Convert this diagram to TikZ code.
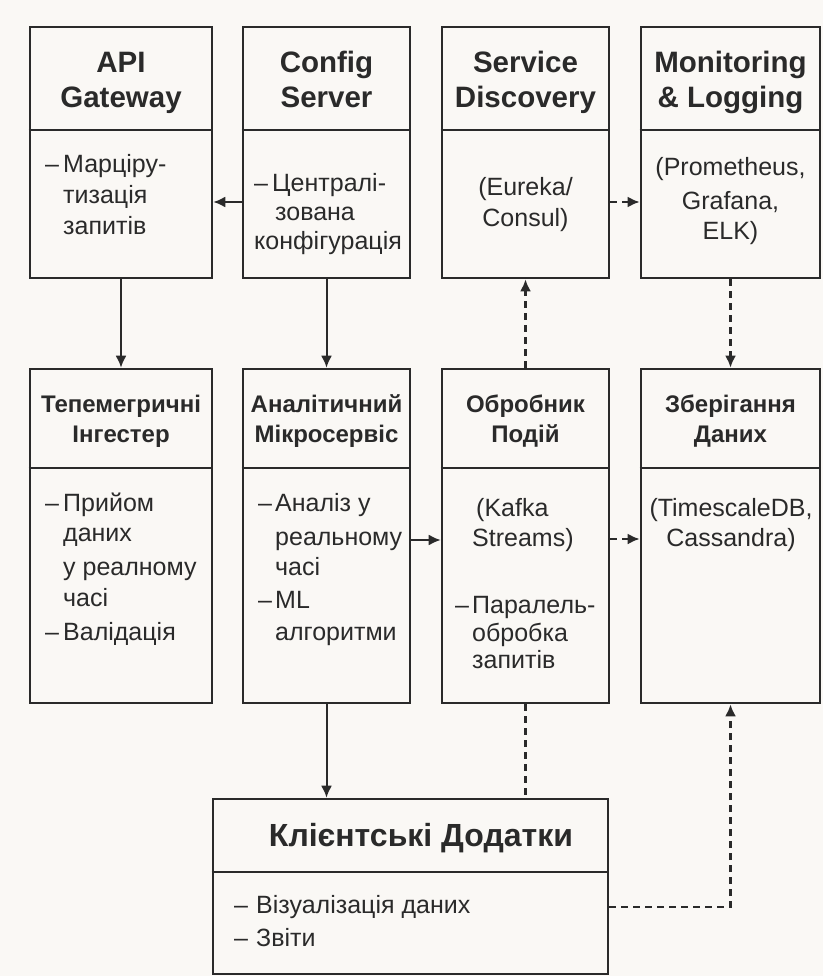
\documentclass[tikz,border=0pt]{standalone}
\usepackage{fontspec}
\setmainfont{Liberation Sans}
\usetikzlibrary{arrows.meta}
\definecolor{bg}{HTML}{FAF8F5}
\definecolor{ink}{HTML}{2A2A2A}
\begin{document}
\begin{tikzpicture}[x=1pt,y=-1pt,
  box/.style={draw=ink, line width=2.6pt, fill=bg, inner sep=0pt},
  divider/.style={draw=ink, line width=2.4pt},
  ttl/.style={font=\bfseries\fontsize{29.5}{35}\selectfont, text=ink, anchor=base, inner sep=0pt},
  ttlsm/.style={font=\bfseries\fontsize{24}{30}\selectfont, text=ink, anchor=base, inner sep=0pt},
  ttlbig/.style={font=\bfseries\fontsize{32}{36}\selectfont, text=ink, anchor=base, inner sep=0pt},
  txt/.style={font=\fontsize{25}{30}\selectfont, text=ink, anchor=base west, inner sep=0pt},
  txtc/.style={font=\fontsize{25}{30}\selectfont, text=ink, anchor=base, inner sep=0pt},
  arr/.style={draw=ink, line width=2pt, -{Latex[length=12pt,width=11pt]}},
  darr/.style={draw=ink, line width=2.4pt, dash pattern=on 7pt off 5pt, -{Latex[length=12pt,width=11pt]}},
  dline/.style={draw=ink, line width=2.4pt, dash pattern=on 7pt off 5pt}]
\fill[bg] (0,0) rectangle (823,976);
\useasboundingbox (0,0) rectangle (823,976);

% ---- boxes ----
\node[box, minimum width=182pt, minimum height=251pt] (api) at (121,152.5) {};
\node[box, minimum width=167pt, minimum height=251pt] (cfg) at (326.5,152.5) {};
\node[box, minimum width=167pt, minimum height=251pt] (sd)  at (525.5,152.5) {};
\node[box, minimum width=179pt, minimum height=251pt] (mon) at (730.5,152.5) {};
\node[box, minimum width=182pt, minimum height=334pt] (tel) at (121,536) {};
\node[box, minimum width=167pt, minimum height=334pt] (ana) at (326.5,536) {};
\node[box, minimum width=167pt, minimum height=334pt] (evt) at (525.5,536) {};
\node[box, minimum width=179pt, minimum height=334pt] (sto) at (730.5,536) {};
\node[box, minimum width=395pt, minimum height=175pt] (cli) at (410.5,886.5) {};

% ---- dividers ----
\foreach \b in {api,cfg,sd,mon}{
  \draw[divider] (\b.west |- 0,130) -- (\b.east |- 0,130);}
\foreach \b in {tel,ana,evt,sto}{
  \draw[divider] (\b.west |- 0,468) -- (\b.east |- 0,468);}
\draw[divider] (cli.west |- 0,872) -- (cli.east |- 0,872);

% ---- titles ----
\node[ttl] (tapi1) at (121,73) {API};
\node[ttl] (tapi2) at (121,108) {Gateway};
\node[ttl] (tcfg1) at (326.5,73) {Config};
\node[ttl] (tcfg2) at (326.5,108) {Server};
\node[ttl] (tsd1)  at (525.5,73) {Service};
\node[ttl] (tsd2)  at (525.5,108) {Discovery};
\node[ttl] (tmon1) at (730.5,73) {Monitoring};
\node[ttl] (tmon2) at (730.5,108) {\& Logging};
\node[ttlsm] (ttel1) at (121,412) {Тепемегричні};
\node[ttlsm] (ttel2) at (121,442) {Інгестер};
\node[ttlsm] (tana1) at (326.5,412) {Аналітичний};
\node[ttlsm] (tana2) at (326.5,442) {Мікросервіс};
\node[ttlsm] (tevt1) at (525.5,412) {Обробник};
\node[ttlsm] (tevt2) at (525.5,442) {Подій};
\node[ttlsm] (tsto1) at (730.5,412) {Зберігання};
\node[ttlsm] (tsto2) at (730.5,442) {Даних};
\node[ttlbig] (tcli) at (421,846) {Клієнтські Додатки};

% ---- API body ----
\node[txt] (a0) at (45,173) {–};
\node[txt] (a1) at (63,173) {Марціру-};
\node[txt] (a2) at (63,204) {тизація};
\node[txt] (a3) at (63,235) {запитів};
% ---- Config body ----
\node[txt] (c0) at (254,192) {–};
\node[txt] (c1) at (272,192) {Централі-};
\node[txt] (c2) at (275,221) {зована};
\node[txt] (c3) at (254,250) {конфігурація};
% ---- Service Discovery body ----
\node[txtc] (s1) at (525.5,196) {(Eureka/};
\node[txtc] (s2) at (525.5,226) {Consul)};
% ---- Monitoring body ----
\node[txtc] (m1) at (730.5,176) {(Prometheus,};
\node[txtc] (m2) at (730.5,210) {Grafana,};
\node[txtc] (m3) at (730.5,240) {ELK)};
% ---- Telemetry body ----
\node[txt] (t0) at (45,511) {–};
\node[txt] (t1) at (63,511) {Прийом};
\node[txt] (t2) at (63,541) {даних};
\node[txt] (t3) at (63,575) {у реалному};
\node[txt] (t4) at (63,606) {часі};
\node[txt] (t5) at (45,640) {–};
\node[txt] (t6) at (63,640) {Валідація};
% ---- Analytic body ----
\node[txt] (n0) at (258,511) {–};
\node[txt] (n1) at (275,511) {Аналіз у};
\node[txt] (n2) at (275,545) {реальному};
\node[txt] (n3) at (275,575) {часі};
\node[txt] (n4) at (258,608) {–};
\node[txt] (n5) at (275,608) {ML};
\node[txt] (n6) at (275,640) {алгоритми};
% ---- Event body ----
\node[txt] (e1) at (476,516) {(Kafka};
\node[txt] (e2) at (472,546) {Streams)};
\node[txt] (e3) at (455,613) {–};
\node[txt] (e4) at (472,613) {Паралель-};
\node[txt] (e5) at (472,641) {обробка};
\node[txt] (e6) at (472,668) {запитів};
% ---- Storage body ----
\node[txtc] (d1) at (731,516) {(TimescaleDB,};
\node[txtc] (d2) at (731,546) {Cassandra)};
% ---- Client body ----
\node[txt] (k0) at (234,913) {–};
\node[txt] (k1) at (256,913) {Візуалізація даних};
\node[txt] (k2) at (234,946) {–};
\node[txt] (k3) at (256,946) {Звіти};

% ---- connectors ----
\draw[arr] ([yshift=-49.5pt]cfg.west) -- ([yshift=-49.5pt]api.east);
\draw[darr] ([yshift=-49.5pt]sd.east) -- ([yshift=-49.5pt]mon.west);
\draw[arr] (api.south) -- (tel.north);
\draw[arr] (cfg.south) -- (ana.north);
\draw[darr] (evt.north) -- (sd.south);
\draw[darr] (mon.south) -- (sto.north);
\draw[arr] ([yshift=-4pt]ana.east) -- ([yshift=-4pt]evt.west);
\draw[darr] ([yshift=-3pt]evt.east) -- ([yshift=-3pt]sto.west);
\draw[arr] (ana.south) -- (ana.south |- cli.north);
\draw[dline] (evt.south) -- (evt.south |- cli.north);
\draw[darr] ([yshift=-20.5pt]cli.east) -| (sto.south);
\end{tikzpicture}
\end{document}
